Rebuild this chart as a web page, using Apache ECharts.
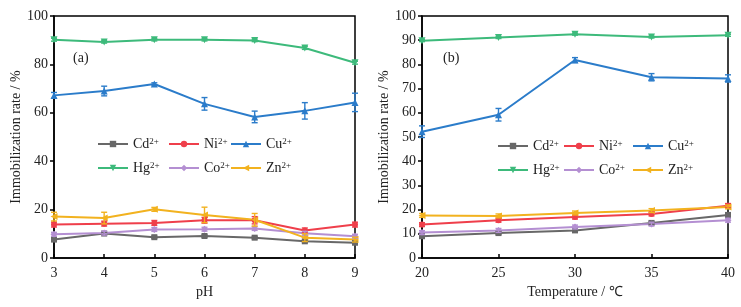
<!DOCTYPE html>
<html>
<head>
<meta charset="utf-8">
<script src="https://cdn.jsdelivr.net/npm/echarts@6/dist/echarts.min.js"></script>
<style>
  html, body { margin: 0; padding: 0; background: #fff; }
  #chart { width: 741px; height: 307px; }
</style>
</head>
<body>
<div id="chart"></div>
<script>
// 数据
const names = ['Cd2+', 'Ni2+', 'Cu2+', 'Hg2+', 'Co2+', 'Zn2+'];
const colors = ['#686868', '#ef3f4b', '#2b7cca', '#3dba7b', '#b48fd2', '#f2b21f'];

// (a) pH
const phX = [3, 4, 5, 6, 7, 8, 9];
const cdPh = [7.6, 10.1, 8.6, 9.1, 8.4, 6.9, 6.3];
const niPh = [13.8, 14.2, 14.5, 15.6, 15.6, 11.4, 13.8];
const cuPh = [67.2, 69.0, 71.9, 63.7, 58.3, 60.8, 64.3];
const hgPh = [90.2, 89.3, 90.2, 90.2, 89.9, 86.8, 80.7];
const coPh = [9.8, 10.3, 11.8, 11.9, 12.2, 10.2, 9.0];
const znPh = [17.1, 16.5, 20.1, 17.8, 15.8, 8.4, 7.6];
const cdPhErr = [0.5, 0.5, 0.5, 0.5, 0.5, 0.5, 0.5];
const niPhErr = [1, 1, 1, 1.2, 1.5, 1, 1];
const cuPhErr = [1.2, 2, 0.5, 2.6, 2.4, 3.4, 3.8];
const hgPhErr = [0.6, 0.5, 0.5, 0.5, 0.5, 0.6, 0.6];
const coPhErr = [0.8, 0.8, 0.8, 0.8, 0.8, 0.8, 0.8];
const znPhErr = [1.8, 2.4, 0.8, 3.2, 2.6, 1.6, 1];

// (b) 温度
const tempX = [20, 25, 30, 35, 40];
const cdT = [9.0, 10.3, 11.4, 14.5, 17.8];
const niT = [13.8, 15.6, 16.9, 18.2, 21.6];
const cuT = [52.2, 59.2, 81.8, 74.7, 74.2];
const hgT = [89.8, 91.1, 92.5, 91.3, 92.0];
const coT = [10.5, 11.4, 12.8, 14.0, 15.6];
const znT = [17.6, 17.4, 18.6, 19.6, 21.1];
const cdTErr = [0.8, 0.6, 0.6, 0.6, 0.8];
const niTErr = [0.8, 0.8, 0.8, 0.8, 0.9];
const cuTErr = [2.4, 2.6, 1, 1.5, 1.5];
const hgTErr = [0.4, 0.4, 0.4, 0.4, 0.4];
const coTErr = [0.8, 0.8, 0.8, 0.8, 0.8];
const znTErr = [0.8, 0.8, 0.8, 0.8, 0.8];

const symbols = ['rect', 'circle', 'triangle', 'triangle', 'diamond', 'triangle'];
const rotates = [0, 0, 0, 180, 0, 90];
const symSizes = [6, 6, 7, 7, 7, 7];

const font = 'Liberation Serif';

function lineSeries(xs, ys, idx, axisIdx) {
    return {
        name: names[idx],
        type: 'line',
        xAxisIndex: axisIdx,
        yAxisIndex: axisIdx,
        data: xs.map((x, i) => [x, ys[i]]),
        symbol: symbols[idx],
        symbolRotate: rotates[idx],
        symbolSize: symSizes[idx],
        lineStyle: { width: 2, color: colors[idx] },
        itemStyle: { color: colors[idx] },
        z: 3
    };
}

function errSeries(xs, ys, errs, idx, axisIdx) {
    return {
        type: 'custom',
        xAxisIndex: axisIdx,
        yAxisIndex: axisIdx,
        data: xs.map((x, i) => [x, ys[i], errs[i]]),
        z: 4,
        silent: true,
        renderItem: function (params, api) {
            const x = api.value(0), y = api.value(1), e = api.value(2);
            const hi = api.coord([x, y + e]);
            const lo = api.coord([x, y - e]);
            const w = 3;
            const st = { stroke: colors[idx], lineWidth: 1.4 };
            return {
                type: 'group',
                children: [
                    { type: 'line', shape: { x1: hi[0], y1: hi[1], x2: lo[0], y2: lo[1] }, style: st },
                    { type: 'line', shape: { x1: hi[0] - w, y1: hi[1], x2: hi[0] + w, y2: hi[1] }, style: st },
                    { type: 'line', shape: { x1: lo[0] - w, y1: lo[1], x2: lo[0] + w, y2: lo[1] }, style: st }
                ]
            };
        }
    };
}

function xAxis(idx, min, max, interval, name) {
    return {
        type: 'value', gridIndex: idx, min: min, max: max, interval: interval,
        name: name, nameLocation: 'middle', nameGap: 24,
        nameTextStyle: { fontFamily: font, fontSize: 14, color: '#222' },
        axisLine: { show: true, lineStyle: { color: '#000', width: 1.5 } },
        axisTick: { show: true, inside: true, length: 4, lineStyle: { color: '#000', width: 1.5 } },
        axisLabel: { fontFamily: font, fontSize: 14, color: '#222', margin: 8 },
        splitLine: { show: false }
    };
}

function yAxis(idx, interval) {
    return {
        type: 'value', gridIndex: idx, min: 0, max: 100, interval: interval,
        name: 'Immobilization rate / %', nameLocation: 'middle', nameGap: 29,
        nameTextStyle: { fontFamily: font, fontSize: 14, color: '#222' },
        axisLine: { show: true, lineStyle: { color: '#000', width: 1.5 } },
        axisTick: { show: true, inside: false, length: 4, lineStyle: { color: '#000', width: 1.5 } },
        axisLabel: { fontFamily: font, fontSize: 14, color: '#222', margin: 6 },
        splitLine: { show: false }
    };
}

// 图例：每列一个竖排图例，让列对齐
function legendCol(left, top, data) {
    return {
        orient: 'vertical', left: left, top: top, padding: 0,
        itemWidth: 30, itemHeight: 8, itemGap: 10,
        data: data,
        selectedMode: false,
        formatter: n => n.replace(/^([A-Za-z]+)(\d\+)$/, '$1{s|$2}'),
        textStyle: {
            fontFamily: font, fontSize: 14, color: '#222',
            rich: { s: { fontFamily: font, fontSize: 9, color: '#222', verticalAlign: 'top', lineHeight: 12 } }
        }
    };
}

const series = [];
const phVals = [cdPh, niPh, cuPh, hgPh, coPh, znPh];
const phErrs = [cdPhErr, niPhErr, cuPhErr, hgPhErr, coPhErr, znPhErr];
const tVals = [cdT, niT, cuT, hgT, coT, znT];
const tErrs = [cdTErr, niTErr, cuTErr, hgTErr, coTErr, znTErr];
for (let i = 0; i < names.length; i++) {
    series.push(lineSeries(phX, phVals[i], i, 0));
    series.push(errSeries(phX, phVals[i], phErrs[i], i, 0));
    series.push(lineSeries(tempX, tVals[i], i, 1));
    series.push(errSeries(tempX, tVals[i], tErrs[i], i, 1));
}

const chart = echarts.init(document.getElementById('chart'), null, { renderer: 'canvas' });
chart.setOption({
    animation: false,
    backgroundColor: '#fff',
    grid: [
        { left: 54, right: 386, top: 16, bottom: 49, show: true, borderColor: '#000', borderWidth: 1.5 },
        { left: 422, right: 13, top: 16, bottom: 49, show: true, borderColor: '#000', borderWidth: 1.5 }
    ],
    xAxis: [xAxis(0, 3, 9, 1, 'pH'), xAxis(1, 20, 40, 5, 'Temperature / ℃')],
    yAxis: [yAxis(0, 20), yAxis(1, 10)],
    legend: [
        legendCol(97, 137, ['Cd2+', 'Hg2+']),
        legendCol(168, 137, ['Ni2+', 'Co2+']),
        legendCol(230, 137, ['Cu2+', 'Zn2+']),
        legendCol(497, 139, ['Cd2+', 'Hg2+']),
        legendCol(563, 139, ['Ni2+', 'Co2+']),
        legendCol(632, 139, ['Cu2+', 'Zn2+'])
    ],
    graphic: [
        { type: 'text', left: 73, top: 51, style: { text: '(a)', fontFamily: font, fontSize: 14, fill: '#222' } },
        { type: 'text', left: 443, top: 51, style: { text: '(b)', fontFamily: font, fontSize: 14, fill: '#222' } }
    ],
    series: series
});
</script>
</body>
</html>
